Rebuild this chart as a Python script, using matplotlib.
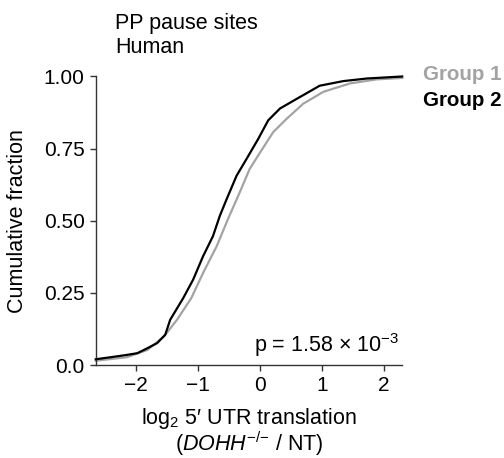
import matplotlib
matplotlib.use("Agg")
import matplotlib.pyplot as plt

plt.rcParams['font.family'] = ['Liberation Sans', 'DejaVu Sans']
plt.rcParams['mathtext.fontset'] = 'custom'
plt.rcParams['mathtext.rm'] = 'Liberation Sans'
plt.rcParams['mathtext.it'] = 'Liberation Sans:italic'
plt.rcParams['mathtext.bf'] = 'Liberation Sans:bold'

# ---- data (x = log2 ratio, y = cumulative fraction) ----
group1_x = [-2.65, -2.15, -1.82, -1.55, -1.34, -1.11, -0.92, -0.70, -0.52, -0.33,
            -0.17, 0.00, 0.21, 0.43, 0.61, 0.69, 1.02, 1.45, 1.88, 2.29]
group1_y = [0.015, 0.027, 0.052, 0.099, 0.157, 0.232, 0.319, 0.412, 0.505, 0.598,
            0.679, 0.737, 0.807, 0.854, 0.889, 0.905, 0.947, 0.976, 0.990, 0.995]

group2_x = [-2.65, -2.41, -2.15, -1.98, -1.82, -1.66, -1.53, -1.45, -1.24, -1.08,
            -0.92, -0.76, -0.65, -0.54, -0.38, -0.22, -0.03, 0.13, 0.32, 0.61,
            0.96, 1.34, 1.72, 2.29]
group2_y = [0.020, 0.027, 0.035, 0.041, 0.058, 0.076, 0.105, 0.157, 0.232, 0.296,
            0.377, 0.447, 0.517, 0.575, 0.656, 0.714, 0.784, 0.848, 0.889, 0.925,
            0.968, 0.984, 0.993, 1.000]

x_ticks = [-2, -1, 0, 1, 2]
y_ticks = [0.0, 0.25, 0.50, 0.75, 1.00]
y_tick_labels = ["0.0", "0.25", "0.50", "0.75", "1.00"]

gray = "#a3a3a3"
axis_col = "#333333"
fs = 15.5

fig = plt.figure(figsize=(5.04, 4.58), dpi=100)
ax = fig.add_axes([0.19, 0.203, 0.608, 0.63])

ax.plot(group1_x, group1_y, color=gray, lw=1.6, clip_on=False, zorder=2)
ax.plot(group2_x, group2_y, color="black", lw=1.6, clip_on=False, zorder=3)

ax.set_xlim(-2.65, 2.29)
ax.set_ylim(0, 1.0)
ax.set_xticks(x_ticks)
ax.set_xticklabels([f"{t}".replace("-", "\u2212") for t in x_ticks])
ax.set_yticks(y_ticks)
ax.set_yticklabels(y_tick_labels)

for s in ["top", "right"]:
    ax.spines[s].set_visible(False)
for s in ["left", "bottom"]:
    ax.spines[s].set_color(axis_col)
    ax.spines[s].set_linewidth(1.0)
ax.tick_params(colors=axis_col, labelcolor="black", labelsize=15,
               length=4, width=1.0, direction="out", pad=4)

ax.set_ylabel("Cumulative fraction", fontsize=fs, labelpad=11)
ax.set_xlabel("log$_2$ 5\u2032 UTR translation\n($\\it{DOHH}^{-/{-}}$ / NT)",
              fontsize=fs, labelpad=8, linespacing=0.92)

ax.text(0.99, 0.045, "p = 1.58 $\\times$ 10$^{-3}$", transform=ax.transAxes,
        ha="right", va="baseline", fontsize=fs)

# title block (two lines)
fig.text(115 / 504, 1 - 13 / 458, "PP pause sites\nHuman", ha="left", va="top",
         fontsize=fs, linespacing=1.18)

# group labels at the right
fig.text(423 / 504, 1 - 74 / 458, "Group 1", color=gray, fontweight="bold",
         fontsize=14.8, ha="left", va="center")
fig.text(423 / 504, 1 - 100 / 458, "Group 2", color="black", fontweight="bold",
         fontsize=14.8, ha="left", va="center")

fig.savefig("out.png", dpi=100)
